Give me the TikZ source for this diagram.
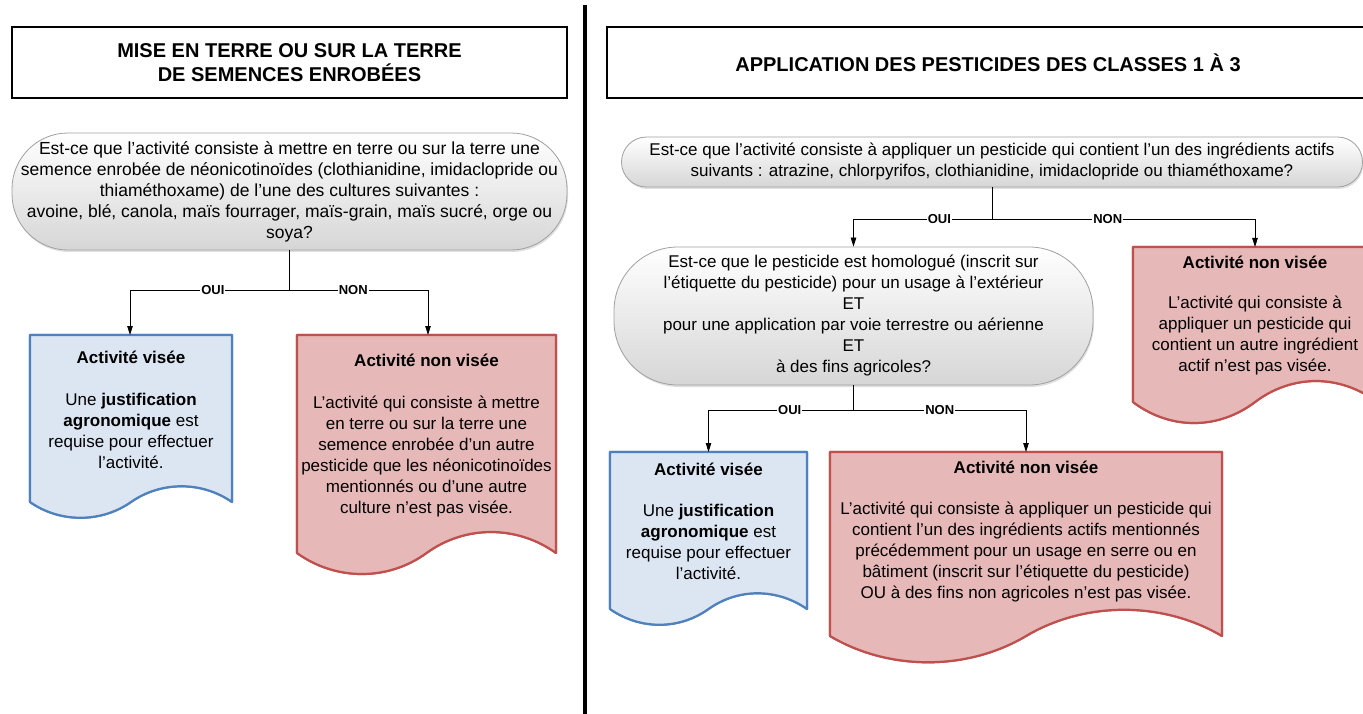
\documentclass[tikz,border=0pt]{standalone}
\usepackage{fontspec}
\setmainfont{Liberation Sans}
\usepackage{tikz}
\usetikzlibrary{arrows.meta,shadows}

\definecolor{bleufond}{RGB}{220,230,242}
\definecolor{bleubord}{RGB}{79,129,189}
\definecolor{rougefond}{RGB}{230,185,184}
\definecolor{rougebord}{RGB}{192,80,77}
\definecolor{grisbord}{RGB}{160,160,160}
\definecolor{grisfond}{RGB}{214,214,214}

\tikzset{
  titre/.style={draw=black,line width=1.2pt,align=center,
    font=\bfseries\fontsize{20}{24}\selectfont},
  question/.style={draw=grisbord,line width=0.8pt,top color=white,bottom color=grisfond,
    align=center,font=\fontsize{17}{21}\selectfont,
    drop shadow={shadow xshift=1pt,shadow yshift=-2pt,opacity=0.25}},
  visee/.style={draw=bleubord,fill=bleufond,line width=2.2pt,line join=round},
  nonvisee/.style={draw=rougebord,fill=rougefond,line width=2.2pt,line join=round},
  doctexte/.style={anchor=north,align=center,inner sep=0pt,
    font=\fontsize{17}{21}\selectfont},
  lien/.style={line width=0.8pt,-{Triangle[length=9pt,width=5.5pt]}},
  choix/.style={fill=white,inner sep=1pt,font=\bfseries\fontsize{13}{15}\selectfont}
}

\begin{document}
\begin{tikzpicture}[x=1pt,y=-1pt]
    \useasboundingbox (0,0) rectangle (1363,714);
    \clip (0,0) rectangle (1363,714);

    \draw[line width=4pt] (585,5)--(585,714);

    % titres
    \node[titre,minimum width=555pt,minimum height=71pt] (titreA) at (289.5,62.5)
        {MISE EN TERRE OU SUR LA TERRE\\DE SEMENCES ENROBÉES};
    \node[titre,minimum width=762pt,minimum height=71pt] (titreB) at (988,62.5)
        {APPLICATION DES PESTICIDES DES CLASSES 1 À 3};

    % partie gauche
    \node[question,font=\fontsize{17.5}{21}\selectfont,minimum width=555pt,minimum height=117pt,
        rounded corners=56pt] (semence) at (289.5,191.5)
        {Est-ce que l’activité consiste à mettre en terre ou sur la terre une\\
         semence enrobée de néonicotinoïdes (clothianidine, imidaclopride ou\\
         thiaméthoxame) de l’une des cultures suivantes :\\
         avoine, blé, canola, maïs fourrager, maïs-grain, maïs sucré, orge ou\\
         soya?};

    \fill[visee] (30,335)--(232,335)--(232,502) .. controls (202,481) and (161,481) .. (131,502)
        .. controls (101,523) and (60,523) .. (30,502)--cycle;
    \fill[nonvisee] (297,335)--(556,335)--(556,553) .. controls (517,525) and (465,525) .. (426.5,553)
        .. controls (388,581) and (336,581) .. (297,553)--cycle;
    \draw[visee] (30,335)--(232,335)--(232,502) .. controls (202,481) and (161,481) .. (131,502)
        .. controls (101,523) and (60,523) .. (30,502)--cycle;
    \draw[nonvisee] (297,335)--(556,335)--(556,553) .. controls (517,525) and (465,525) .. (426.5,553)
        .. controls (388,581) and (336,581) .. (297,553)--cycle;

    \node[doctexte] (viseeA) at (131,351)
        {\textbf{Activité visée}\\[21pt]
         Une \textbf{justification}\\ \textbf{agronomique} est\\ requise pour effectuer\\ l’activité.};
    \node[doctexte] (nonviseeA) at (426.5,354)
        {\textbf{Activité non visée}\\[21pt]
         L’activité qui consiste à mettre\\ en terre ou sur la terre une\\ semence enrobée d’un autre\\
         pesticide que les néonicotinoïdes\\ mentionnés ou d’une autre\\ culture n’est pas visée.};

    \coordinate (jA) at (289.5,290);
    \draw[line width=0.8pt] (semence.south)--(jA);
    \draw[lien] (jA) -| node[choix,pos=0.24]{OUI} (130,335);
    \draw[lien] (jA) -| node[choix,pos=0.23]{NON} (428,335);

    % partie droite
    \node[question,minimum width=741pt,minimum height=50pt,rounded corners=25pt] (ingredient) at (992,162)
        {Est-ce que l’activité consiste à appliquer un pesticide qui contient l’un des ingrédients actifs\\
         suivants : atrazine, chlorpyrifos, clothianidine, imidaclopride ou thiaméthoxame?};
    \node[question,minimum width=479pt,minimum height=138pt,rounded corners=64pt] (homologue) at (853.5,316)
        {Est-ce que le pesticide est homologué (inscrit sur\\
         l’étiquette du pesticide) pour un usage à l’extérieur\\ ET\\
         pour une application par voie terrestre ou aérienne\\ ET\\ à des fins agricoles?};

    \fill[nonvisee] (1133,247)--(1377,247)--(1377,402) .. controls (1340,374) and (1292,374) .. (1255,402)
        .. controls (1218,430) and (1170,430) .. (1133,402)--cycle;
    \draw[nonvisee] (1133,247)--(1377,247)--(1377,402) .. controls (1340,374) and (1292,374) .. (1255,402)
        .. controls (1218,430) and (1170,430) .. (1133,402)--cycle;
    \fill[visee] (610,452)--(807,452)--(807,609) .. controls (777,588) and (738,588) .. (708.5,609)
        .. controls (679,630) and (640,630) .. (610,609)--cycle;
    \draw[visee] (610,452)--(807,452)--(807,609) .. controls (777,588) and (738,588) .. (708.5,609)
        .. controls (679,630) and (640,630) .. (610,609)--cycle;
    \fill[nonvisee] (830,452)--(1222,452)--(1222,636) .. controls (1163,601) and (1085,601) .. (1026,636)
        .. controls (967,671) and (889,671) .. (830,636)--cycle;
    \draw[nonvisee] (830,452)--(1222,452)--(1222,636) .. controls (1163,601) and (1085,601) .. (1026,636)
        .. controls (967,671) and (889,671) .. (830,636)--cycle;

    \node[doctexte] (nonviseeB) at (1255,256)
        {\textbf{Activité non visée}\\[19pt]
         L’activité qui consiste à\\ appliquer un pesticide qui\\ contient un autre ingrédient\\ actif n’est pas visée.};
    \node[doctexte] (viseeC) at (708.5,463)
        {\textbf{Activité visée}\\[20pt]
         Une \textbf{justification}\\ \textbf{agronomique} est\\ requise pour effectuer\\ l’activité.};
    \node[doctexte] (nonviseeC) at (1026,461)
        {\textbf{Activité non visée}\\[20pt]
         L’activité qui consiste à appliquer un pesticide qui\\ contient l’un des ingrédients actifs mentionnés\\
         précédemment pour un usage en serre ou en\\ bâtiment (inscrit sur l’étiquette du pesticide)\\
         OU à des fins non agricoles n’est pas visée.};

    \coordinate (jB) at (992,219);
    \draw[line width=0.8pt] (ingredient.south)--(jB);
    \draw[lien] (jB) -| node[choix,pos=0.19]{OUI} (homologue.north);
    \draw[lien] (jB) -| node[choix,pos=0.22]{NON} (1255,247);

    \coordinate (jC) at (853.5,410);
    \draw[line width=0.8pt] (homologue.south)--(jC);
    \draw[lien] (jC) -| node[choix,pos=0.22]{OUI} (708.5,452);
    \draw[lien] (jC) -| node[choix,pos=0.25]{NON} (1026,452);

\end{tikzpicture}
\end{document}
